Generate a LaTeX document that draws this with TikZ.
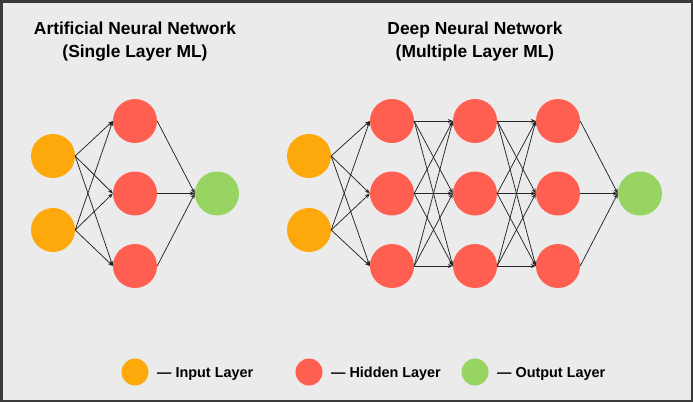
\documentclass[tikz,border=0pt]{standalone}
\usepackage{fontspec}
\setmainfont{Liberation Sans}
\usetikzlibrary{arrows.meta}
\definecolor{bgc}{HTML}{EBEBEB}
\definecolor{framec}{HTML}{3A3A3A}
\definecolor{inc}{HTML}{FDA90C}
\definecolor{hidc}{HTML}{FF5F50}
\definecolor{outc}{HTML}{97D462}
\definecolor{linec}{HTML}{262626}
\tikzset{
  neuron/.style={circle, minimum size=44pt, inner sep=0pt, draw=none},
  inneuron/.style={neuron, fill=inc},
  hidneuron/.style={neuron, fill=hidc},
  outneuron/.style={neuron, fill=outc},
  legdot/.style={circle, minimum size=27pt, inner sep=0pt, draw=none},
  conn/.style={draw=linec, line width=0.75pt, -{Stealth[length=5pt,width=4pt]}},
  titletext/.style={font=\bfseries\fontsize{17.4}{21}\selectfont, inner sep=0pt, anchor=base},
  legtext/.style={font=\bfseries\fontsize{14.4}{17}\selectfont, inner sep=0pt, anchor=base west}
}
\begin{document}
\begin{tikzpicture}[x=1pt,y=-1pt]
\useasboundingbox (0,0) rectangle (693,402);
\fill[bgc] (0,0) rectangle (693,402);
\draw[framec, line width=2.5pt] (1.25,1.25) rectangle (691.75,400.75);

% titles
\node[titletext] (t1a) at (135,34.5) {Artificial Neural Network};
\node[titletext] (t1b) at (135,57.5) {(Single Layer ML)};
\node[titletext] (t2a) at (475,34.5) {Deep Neural Network};
\node[titletext] (t2b) at (475,57.5) {(Multiple Layer ML)};

% left network
\node[inneuron] (li1) at (53,156) {};
\node[inneuron] (li2) at (53,230) {};
\node[hidneuron] (lh1) at (135,121) {};
\node[hidneuron] (lh2) at (135,193.5) {};
\node[hidneuron] (lh3) at (135,266) {};
\node[outneuron] (lo) at (217,193.5) {};
\foreach \i in {1,2}{\foreach \j in {1,2,3}{\draw[conn] (li\i.east) -- (lh\j.west);}}
\foreach \j in {1,2,3}{\draw[conn] (lh\j.east) -- (lo.west);}

% right network
\node[inneuron] (ri1) at (309,156) {};
\node[inneuron] (ri2) at (309,230) {};
\foreach \c/\x in {a/392,b/475,c/558}{
  \node[hidneuron] (r\c1) at (\x,121) {};
  \node[hidneuron] (r\c2) at (\x,193.5) {};
  \node[hidneuron] (r\c3) at (\x,266) {};
}
\node[outneuron] (ro) at (640,193.5) {};
\foreach \i in {1,2}{\foreach \j in {1,2,3}{\draw[conn] (ri\i.east) -- (ra\j.west);}}
\foreach \i in {1,2,3}{\foreach \j in {1,2,3}{
  \draw[conn] (ra\i.east) -- (rb\j.west);
  \draw[conn] (rb\i.east) -- (rc\j.west);
}}
\foreach \j in {1,2,3}{\draw[conn] (rc\j.east) -- (ro.west);}

% legend
\node[legdot, fill=inc] (d1) at (135,372) {};
\node[legtext] (l1) at (157,377.5) {— Input Layer};
\node[legdot, fill=hidc] (d2) at (309,372) {};
\node[legtext] (l2) at (331,377.5) {— Hidden Layer};
\node[legdot, fill=outc] (d3) at (475,372) {};
\node[legtext] (l3) at (497,377.5) {— Output Layer};
\end{tikzpicture}
\end{document}
